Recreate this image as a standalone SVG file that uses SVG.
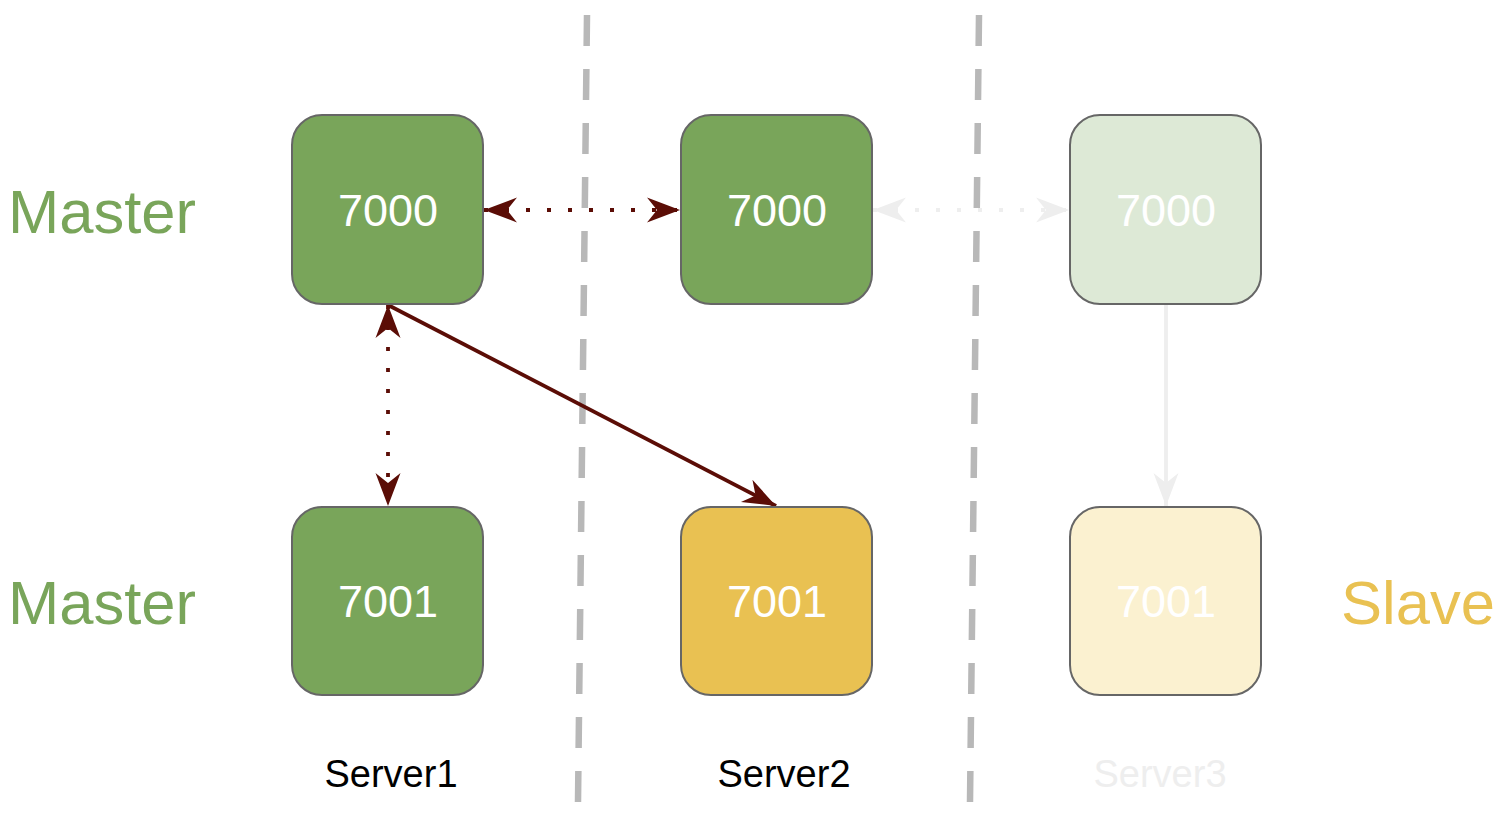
<svg xmlns="http://www.w3.org/2000/svg" width="1508" height="814" viewBox="0 0 1508 814">
<style>
.box{stroke:#666666;stroke-width:2}
.num{font-family:"Liberation Sans",Arial,sans-serif;font-size:45px;fill:#ffffff;text-anchor:middle}
.role{font-family:"Liberation Sans",Arial,sans-serif;font-size:61.5px}
.srv{font-family:"Liberation Sans",Arial,sans-serif;font-size:38px;text-anchor:middle}
.sep{stroke:#b8b8b8;stroke-width:6.5;stroke-dasharray:31 23;fill:none}
.dark{stroke:#5b0d06;stroke-width:3.8;fill:none}
.light{stroke:#eeeeee;stroke-width:3.8;fill:none}
.dot{stroke-dasharray:4 17}
</style>
<defs>
<marker id="ad" markerUnits="userSpaceOnUse" viewBox="-34 -13 35 26" refX="0" refY="0" markerWidth="35" markerHeight="26" orient="auto-start-reverse">
<path d="M0,0 L-33,-12.5 L-23,0 L-33,12.5 Z" fill="#5b0d06"/>
</marker>
<marker id="al" markerUnits="userSpaceOnUse" viewBox="-34 -13 35 26" refX="0" refY="0" markerWidth="35" markerHeight="26" orient="auto-start-reverse">
<path d="M0,0 L-33,-12.5 L-23,0 L-33,12.5 Z" fill="#eeeeee"/>
</marker>
</defs>
<g id="separators">
<line class="sep" x1="587" y1="15" x2="578" y2="802"/>
<line class="sep" x1="979" y1="15" x2="970" y2="802"/>
</g>
<g id="connectors">
<line class="dark dot" x1="484" y1="210" x2="680" y2="210" marker-start="url(#ad)" marker-end="url(#ad)"/>
<line class="light dot" x1="873" y1="210" x2="1069" y2="210" marker-start="url(#al)" marker-end="url(#al)"/>
<line class="dark dot" x1="388" y1="305" x2="388" y2="506" marker-start="url(#ad)" marker-end="url(#ad)"/>
<line class="dark" x1="388" y1="305" x2="776" y2="506" marker-end="url(#ad)"/>
<line class="light" x1="1166" y1="305" x2="1166" y2="506" marker-end="url(#al)"/>
</g>
<g id="s1-7000"><rect class="box" x="292" y="115" width="191" height="189" rx="30" fill="#79a55a"/><text class="num" x="388" y="226">7000</text></g>
<g id="s2-7000"><rect class="box" x="681" y="115" width="191" height="189" rx="30" fill="#79a55a"/><text class="num" x="777" y="226">7000</text></g>
<g id="s3-7000"><rect class="box" x="1070" y="115" width="191" height="189" rx="30" fill="#dde9d6"/><text class="num" x="1166" y="226">7000</text></g>
<g id="s1-7001"><rect class="box" x="292" y="507" width="191" height="188" rx="30" fill="#79a55a"/><text class="num" x="388" y="617">7001</text></g>
<g id="s2-7001"><rect class="box" x="681" y="507" width="191" height="188" rx="30" fill="#e9c152"/><text class="num" x="777" y="617">7001</text></g>
<g id="s3-7001"><rect class="box" x="1070" y="507" width="191" height="188" rx="30" fill="#fbf1d0"/><text class="num" x="1166" y="617">7001</text></g>
<g id="labels">
<text class="role" x="8" y="233" fill="#79a55a">Master</text>
<text class="role" x="8" y="624" fill="#79a55a">Master</text>
<text class="role" x="1341" y="624" fill="#e9c152">Slave</text>
<text class="srv" x="391" y="787" fill="#000000">Server1</text>
<text class="srv" x="784" y="787" fill="#000000">Server2</text>
<text class="srv" x="1160" y="787" fill="#eeeeee">Server3</text>
</g>
</svg>
